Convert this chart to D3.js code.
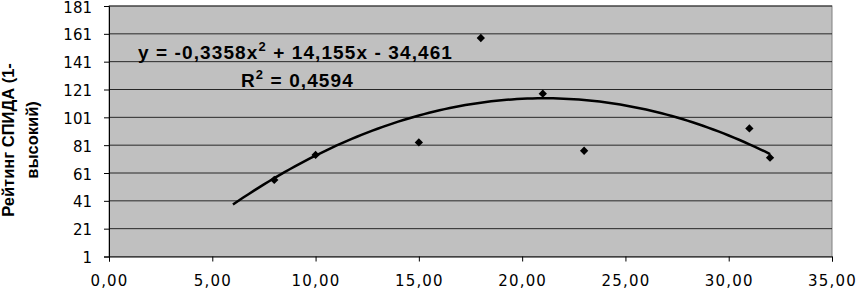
<!DOCTYPE html>
<html>
<head>
<meta charset="utf-8">
<script src="https://cdn.jsdelivr.net/npm/d3@7"></script>
<style>
  body { margin: 0; background: #fff; }
  text { font-family: Arial, "Liberation Sans", sans-serif; }
</style>
</head>
<body>
<div id="chart"></div>
<script>
// data
const xValues = [8, 10, 15, 18, 21, 23, 31, 32];
const yValues = [56, 74, 83, 158, 118, 77, 93, 72];
const xTicks = [0, 5, 10, 15, 20, 25, 30, 35];
const yTicks = [1, 21, 41, 61, 81, 101, 121, 141, 161, 181];
// polynomial trend: a*x^2 + b*x + c
const trendCoef = [-0.3358, 14.155, -34.461];
const trendRange = [6, 32];

const width = 858, height = 289;
const plotLeft = 109, plotRight = 832, plotTop = 6, plotBottom = 256.5;

const svg = d3.select("#chart").append("svg")
    .attr("width", width)
    .attr("height", height);

const x = d3.scaleLinear().domain([0, 35]).range([plotLeft, plotRight]);
const y = d3.scaleLinear().domain([1, 181]).range([plotBottom, plotTop]);

// plot background
svg.append("rect")
    .attr("x", plotLeft).attr("y", plotTop)
    .attr("width", plotRight - plotLeft).attr("height", plotBottom - plotTop)
    .attr("fill", "#c0c0c0")
    .attr("stroke", "#808080")
    .attr("stroke-width", 1);

// grid
svg.append("g").selectAll("line")
    .data(yTicks.slice(1))
    .enter().append("line")
    .attr("x1", plotLeft).attr("x2", plotRight)
    .attr("y1", d => y(d)).attr("y2", d => y(d))
    .attr("stroke", "#000")
    .attr("stroke-width", 0.8);

// axes
const fmt = d => d.toFixed(2).replace(".", ",");
const xAxis = svg.append("g")
    .attr("transform", `translate(0,${plotBottom})`)
    .call(d3.axisBottom(x).tickValues(xTicks).tickFormat(fmt).tickSize(5).tickPadding(14));
const yAxis = svg.append("g")
    .attr("transform", `translate(${plotLeft},0)`)
    .call(d3.axisLeft(y).tickValues(yTicks).tickSize(5).tickPadding(12));

[xAxis, yAxis].forEach(g => {
    g.select(".domain").attr("stroke", "#000");
    g.selectAll(".tick line").attr("stroke", "#000");
    g.selectAll(".tick text")
        .attr("fill", "#000")
        .style("font-size", "15px")
        .style("font-family", "'DejaVu Sans', sans-serif");
});
xAxis.selectAll(".tick text").style("letter-spacing", "1.2px");
yAxis.selectAll(".tick text").attr("dy", "0.4em");

// trend line
const trend = d3.range(trendRange[0], trendRange[1] + 0.001, 0.25)
    .map(t => [t, trendCoef[0] * t * t + trendCoef[1] * t + trendCoef[2]]);
svg.append("path")
    .datum(trend)
    .attr("fill", "none")
    .attr("stroke", "#000")
    .attr("stroke-width", 2.5)
    .attr("d", d3.line().x(d => x(d[0])).y(d => y(d[1])));

// points
svg.append("g").selectAll("path")
    .data(xValues.map((v, i) => [v, yValues[i]]))
    .enter().append("path")
    .attr("transform", d => `translate(${x(d[0])},${y(d[1])})`)
    .attr("d", d3.symbol().type(d3.symbolDiamond2).size(44))
    .attr("fill", "#000");

// equation
const eq = svg.append("text")
    .attr("x", 138).attr("y", 58.5)
    .attr("font-size", "19px").attr("font-weight", "bold")
    .style("letter-spacing", "1.1px");
eq.append("tspan").text("y = -0,3358x");
eq.append("tspan").attr("dy", -8).attr("font-size", "13px").text("2");
eq.append("tspan").attr("dy", 8).text(" + 14,155x - 34,461");

const r2 = svg.append("text")
    .attr("x", 241).attr("y", 87)
    .attr("font-size", "19px").attr("font-weight", "bold")
    .style("letter-spacing", "1.1px");
r2.append("tspan").text("R");
r2.append("tspan").attr("dy", -8).attr("font-size", "13px").text("2");
r2.append("tspan").attr("dy", 8).text(" = 0,4594");

// y title
const yTitle = svg.append("text")
    .attr("transform", "translate(14,140) rotate(-90)")
    .attr("text-anchor", "middle")
    .attr("font-size", "16.5px").attr("font-weight", "bold");
yTitle.append("tspan").attr("x", 0).attr("dy", 0).text("Рейтинг СПИДА (1-");
yTitle.append("tspan").attr("x", 0).attr("dy", 24).text("высокий)");
</script>
</body>
</html>
